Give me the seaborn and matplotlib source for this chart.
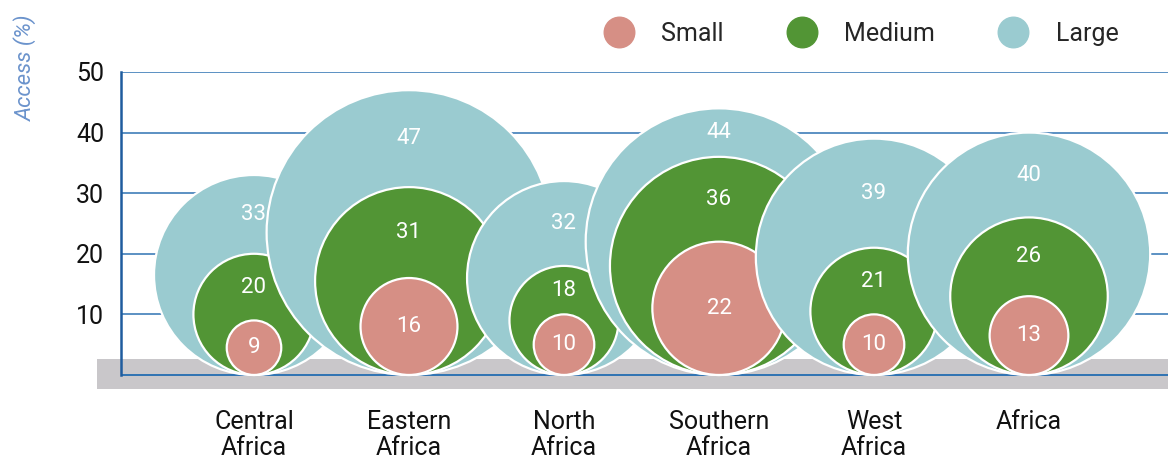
import numpy as np
import matplotlib.pyplot as plt
from matplotlib.patches import Circle
from matplotlib.lines import Line2D
import seaborn as sns

# --- data ---
regions = ["Central\nAfrica", "Eastern\nAfrica", "North\nAfrica",
           "Southern\nAfrica", "West\nAfrica", "Africa"]
small = [9, 16, 10, 22, 10, 13]
medium = [20, 31, 18, 36, 21, 26]
large = [33, 47, 32, 44, 39, 40]
size_names = ["Small", "Medium", "Large"]
y_ticks = [10, 20, 30, 40, 50]

palette = sns.color_palette(["#d68f85", "#529535", "#9acbd0"])
AXIS_BLUE = "#1f5c9e"
GRID_BLUE = "#2f73b3"

sns.set_theme(style="white")
plt.rcParams['font.family'] = ['Roboto', 'DejaVu Sans']

W, H = 1168, 461
fig = plt.figure(figsize=(W / 100, H / 100), dpi=100)

# axes box in pixels (left, bottom-from-top, right, top)
ax_left, ax_right, ax_top, ax_bot = 97, 1168, 72, 389.5
y_min, y_max = -2.4, 50
ax = fig.add_axes([ax_left / W, (H - ax_bot) / H,
                   (ax_right - ax_left) / W, (ax_bot - ax_top) / H])

# same scale on both axes so circles stay round
ppu = (ax_bot - ax_top) / (y_max - y_min)
step = 155 / ppu
xs = np.arange(len(regions)) * step
x_lo = -(254 - ax_left) / ppu
x_hi = x_lo + (ax_right - ax_left) / ppu
spine_x = -(254 - 121) / ppu

ax.set_xlim(x_lo, x_hi)
ax.set_ylim(y_min, y_max)

# grey floor band, grid, baseline
ax.axhspan(-2.3, 2.6, color="#c9c7ca", lw=0, zorder=0.5)
ax.hlines(y_ticks, spine_x, x_hi, color=GRID_BLUE, lw=1.1, zorder=1)
ax.hlines(0, spine_x, x_hi, color=GRID_BLUE, lw=1.4, zorder=1)

# nested circles, each sitting on the baseline; later regions overlap earlier
for x, s, m, l in zip(xs, small, medium, large):
    for v, c in zip([l, m, s], [palette[2], palette[1], palette[0]]):
        ax.add_patch(Circle((x, v / 2), v / 2, facecolor=c, edgecolor="white",
                            lw=1.6, zorder=3))
    for val, ypos in [(l, (l + m) / 2), (m, (m + s) / 2), (s, s / 2)]:
        ax.text(x, ypos, str(val), color="white", fontsize=16,
                ha="center", va="center", zorder=4)

# axes styling
for side in ["top", "right", "bottom"]:
    ax.spines[side].set_visible(False)
ax.spines["left"].set_position(("data", spine_x))
ax.spines["left"].set_bounds(0, 50)
ax.spines["left"].set_color(AXIS_BLUE)
ax.spines["left"].set_linewidth(1.8)
ax.spines["left"].set_zorder(2)

ax.set_yticks(y_ticks)
ax.set_xticks(xs, regions)
ax.tick_params(axis="y", length=0, pad=12, labelsize=18, labelcolor="#111111")
ax.tick_params(axis="x", length=0, pad=15, labelsize=18, labelcolor="#111111")
for lbl in ax.get_xticklabels():
    lbl.set_linespacing(1.1)
ax.grid(False)

fig.text(25 / W, 1 - 68 / H, "Access (%)", rotation=90, style="italic",
         color="#6b93cc", fontsize=16, ha="center", va="center")

handles = [Line2D([], [], marker="o", ls="", markersize=22,
                  markerfacecolor=c, markeredgecolor=c) for c in palette]
fig.legend(handles, size_names, ncol=3, loc="center left",
           bbox_to_anchor=(581 / W, 1 - 34 / H), frameon=False, borderpad=0,
           fontsize=18, handlelength=2.0, handletextpad=0.72,
           columnspacing=2.1)

fig.savefig("out.png", dpi=100)
